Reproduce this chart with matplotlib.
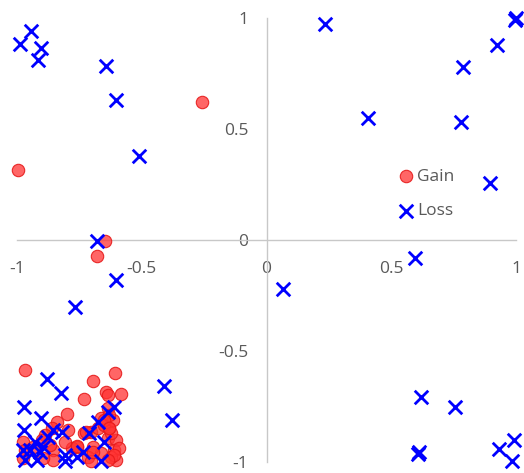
import matplotlib
matplotlib.use("Agg")
import matplotlib.pyplot as plt

gain_x = [-0.994, -0.257, -0.649, -0.681, -0.966, -0.697, -0.609, -0.585, -0.645, -0.637,
          -0.733, -0.798, -0.838, -0.794, -0.858, -0.886, -0.733, -0.705, -0.665, -0.637,
          -0.633, -0.637, -0.605, -0.613, -0.605, -0.625, -0.665, -0.697, -0.717, -0.705,
          -0.758, -0.854, -0.854, -0.894, -0.974, -0.966, -0.974, -0.934, -0.898, -0.866,
          -0.778, -0.806, -0.677, -0.653, -0.617, -0.625, -0.593, -0.633, -0.653, -0.725,
          -0.633, -0.758, -0.697, -0.613, -0.637]
gain_y = [0.315, 0.622, -0.005, -0.072, -0.586, -0.635, -0.599, -0.694, -0.685, -0.698,
          -0.716, -0.784, -0.820, -0.856, -0.847, -0.878, -0.869, -0.865, -0.802, -0.757,
          -0.847, -0.892, -0.901, -0.946, -0.991, -0.977, -0.959, -0.932, -0.977, -0.995,
          -0.932, -0.946, -0.991, -0.982, -0.910, -0.946, -0.982, -0.932, -0.901, -0.923,
          -0.937, -0.910, -0.847, -0.833, -0.811, -0.869, -0.937, -0.788, -0.811, -0.865,
          -0.847, -0.928, -0.955, -0.968, -0.991]

loss_x = [-0.986, -0.942, -0.902, -0.914, -0.645, -0.605, -0.513, -0.681, -0.605, -0.766,
          0.236, 0.405, 0.786, 0.778, 0.922, 0.994, 1.0, 0.894,
          0.068, 0.597, 0.621, 0.754, 0.609, 0.613, 0.930, 0.990, 0.982,
          -0.878, -0.822, -0.970, -0.902, -0.970, -0.409, -0.377, -0.613, -0.637, -0.677,
          -0.713, -0.653, -0.737, -0.806, -0.806, -0.758, -0.665, -0.854, -0.818, -0.874,
          -0.926, -0.946, -0.974, -0.906, -0.966, -0.918, -0.894]
loss_y = [0.883, 0.941, 0.865, 0.811, 0.784, 0.631, 0.378, -0.005, -0.180, -0.302,
          0.973, 0.550, 0.779, 0.532, 0.878, 0.991, 1.0, 0.257,
          -0.221, -0.081, -0.707, -0.752, -0.964, -0.955, -0.941, -0.901, -0.995,
          -0.626, -0.689, -0.752, -0.802, -0.856, -0.658, -0.811, -0.752, -0.775, -0.820,
          -0.869, -0.910, -0.955, -0.968, -0.995, -0.977, -0.995, -0.856, -0.865, -0.887,
          -0.910, -0.946, -0.946, -0.955, -0.991, -0.991, -0.932]

ticks = [-1, -0.5, 0, 0.5, 1]
tick_labels = ["-1", "-0.5", "0", "0.5", "1"]

plt.rcParams['font.family'] = ['Open Sans', 'DejaVu Sans']

fig = plt.figure(figsize=(5.24, 4.73), dpi=100)
ax = fig.add_axes([17 / 524, 11 / 473, 499 / 524, 444 / 473])
ax.set_xlim(-1, 1)
ax.set_ylim(-1, 1)

ax.scatter(gain_x, gain_y, s=80, marker='o', facecolor=(1, 0.2, 0.2, 0.75),
           edgecolor=(0.9, 0.1, 0.1, 0.9), linewidth=0.8, label='Gain', clip_on=False, zorder=3)
ax.scatter(loss_x, loss_y, s=95, marker='x', color='#0000FF', linewidth=2.0,
           label='Loss', clip_on=False, zorder=4)

for s in ['top', 'right']:
    ax.spines[s].set_visible(False)
ax.spines['left'].set_position(('data', 0))
ax.spines['bottom'].set_position(('data', 0))
for s in ['left', 'bottom']:
    ax.spines[s].set_color('#c8c8c8')
    ax.spines[s].set_linewidth(1.0)

ax.set_xticks(ticks)
ax.set_xticklabels(tick_labels)
ax.set_yticks(ticks)
ax.set_yticklabels(tick_labels)
ax.tick_params(axis='both', length=0, labelsize=12.5, labelcolor='#595959')
ax.tick_params(axis='x', pad=15)
ax.tick_params(axis='y', pad=13)

leg = ax.legend(loc='center left', bbox_to_anchor=(0.748, 0.604), frameon=False,
                fontsize=12.5, handletextpad=0.15, labelspacing=1.05, handlelength=1.0,
                borderaxespad=0)
for t in leg.get_texts():
    t.set_color('#595959')

fig.savefig('out.png', dpi=100)
